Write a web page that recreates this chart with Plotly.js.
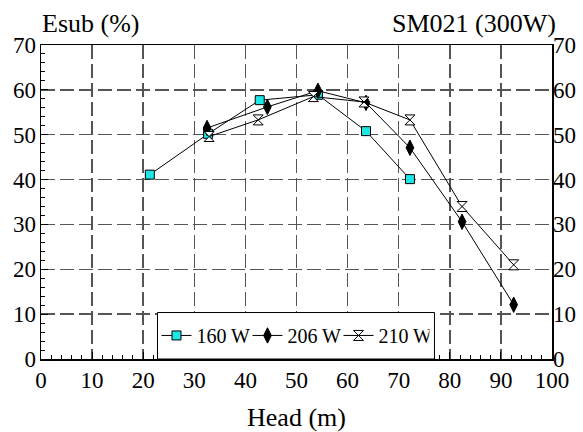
<!DOCTYPE html>
<html>
<head>
<meta charset="utf-8">
<script src="https://cdn.plot.ly/plotly-3.0.1.min.js"></script>
<style>html,body{margin:0;padding:0;background:#fff;}#chart{width:583px;height:432px;}</style>
</head>
<body>
<div id="chart"></div>
<script>
// Data
const head160 = [21.3, 32.7, 42.8, 54.2, 63.6, 72.2];
const esub160 = [41.1, 50.2, 57.7, 58.9, 50.8, 40.1];

const head206 = [32.5, 44.3, 54.2, 63.6, 72.2, 82.4, 92.5];
const esub206 = [51.5, 56.2, 59.8, 57.1, 47.1, 30.6, 12.1];

const head210 = [32.9, 42.5, 53.3, 63.2, 72.2, 82.4, 92.5];
const esub210 = [49.6, 53.3, 58.5, 57.3, 53.3, 34.0, 21.0];

const seriesNames = ['160 W', '206 W', '210 W'];
const xTicks = [0, 10, 20, 30, 40, 50, 60, 70, 80, 90, 100];
const yTicks = [0, 10, 20, 30, 40, 50, 60, 70];

const FONT = 'Liberation Serif';

const traces = [
  {x: head160, y: esub160, name: seriesNames[0], type: 'scatter', mode: 'lines+markers',
   line: {color: '#000', width: 1},
   marker: {symbol: 'square', size: 9, color: '#1ee6e6', line: {color: '#000', width: 1}}},
  {x: head206, y: esub206, name: seriesNames[1], type: 'scatter', mode: 'lines+markers',
   line: {color: '#000', width: 1},
   marker: {symbol: 'diamond-tall', size: 11, color: '#000', line: {color: '#000', width: 1}}},
  {x: head210, y: esub210, name: seriesNames[2], type: 'scatter', mode: 'lines+markers',
   line: {color: '#000', width: 1},
   marker: {symbol: 'hourglass', size: 10, color: '#fff', line: {color: '#000', width: 1}}},
  {x: [null], y: [null], yaxis: 'y2', showlegend: false, hoverinfo: 'skip', type: 'scatter', mode: 'markers'}
];

const gridStyle = {showgrid: true, gridcolor: '#555', gridwidth: 1.5, griddash: '14px,5px'};

const layout = {
  width: 583, height: 432,
  margin: {l: 40.5, r: 31, t: 45, b: 72.5},
  paper_bgcolor: '#fff', plot_bgcolor: '#fff',
  font: {family: FONT, size: 23, color: '#000'},
  showlegend: true,
  legend: {
    orientation: 'h', x: 0.226, y: 0.075, xanchor: 'left', yanchor: 'middle',
    bgcolor: 'rgba(0,0,0,0)', borderwidth: 0,
    font: {family: FONT, size: 20, color: '#000'},
    itemwidth: 30, entrywidth: 46
  },
  shapes: [
    {type: 'rect', xref: 'paper', yref: 'paper', x0: 0.228, x1: 0.77, y0: 0, y1: 0.148,
     fillcolor: '#fff', line: {color: '#000', width: 1}, layer: 'above'}
  ],
  xaxis: Object.assign({
    range: [0, 100], tickvals: xTicks, ticktext: xTicks.map(String),
    ticks: 'inside', ticklen: 7, tickcolor: '#000',
    minor: {dtick: 2, ticks: 'inside', ticklen: 4, tickcolor: '#000', showgrid: false},
    showline: true, linecolor: '#000', linewidth: 1.5, mirror: true,
    zeroline: false,
    tickfont: {family: FONT, size: 23, color: '#000'},
    title: {text: 'Head (m)', font: {family: FONT, size: 26, color: '#000'}, standoff: 16}
  }, gridStyle),
  yaxis: Object.assign({
    range: [0, 70], tickvals: yTicks, ticktext: yTicks.map(String),
    ticks: 'inside', ticklen: 7, tickcolor: '#000',
    minor: {dtick: 2, ticks: 'inside', ticklen: 4, tickcolor: '#000', showgrid: false},
    showline: true, linecolor: '#000', linewidth: 1.5, mirror: true,
    zeroline: false, ticklabelstandoff: -1,
    tickfont: {family: FONT, size: 23, color: '#000'}
  }, gridStyle),
  yaxis2: {
    overlaying: 'y', side: 'right', range: [0, 70],
    tickvals: yTicks, ticktext: yTicks.map(String),
    ticks: '', showgrid: false, zeroline: false, showline: false,
    tickfont: {family: FONT, size: 23, color: '#000'}
  },
  annotations: [
    {text: 'Esub (%)', xref: 'paper', yref: 'paper', x: -0.001, y: 1.07, xanchor: 'left', yanchor: 'middle',
     showarrow: false, font: {family: FONT, size: 26, color: '#000'}},
    {text: 'SM021 (300W)', xref: 'paper', yref: 'paper', x: 1.011, y: 1.07, xanchor: 'right', yanchor: 'middle',
     showarrow: false, font: {family: FONT, size: 26, color: '#000'}}
  ]
};

Plotly.newPlot('chart', traces, layout, {displayModeBar: false, staticPlot: true});
</script>
</body>
</html>
